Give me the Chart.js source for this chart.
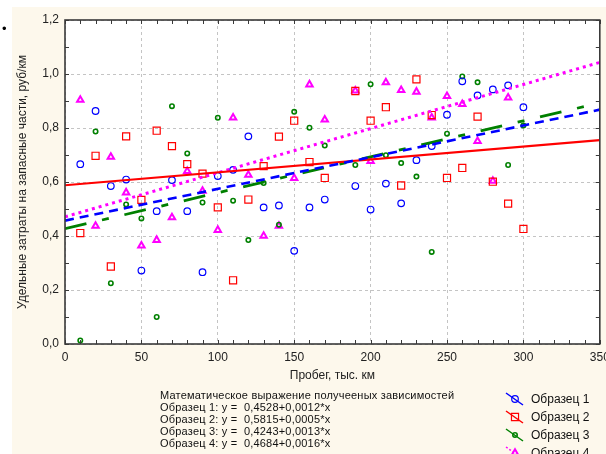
<!DOCTYPE html>
<html>
<head>
<meta charset="utf-8">
<script src="https://cdn.jsdelivr.net/npm/chart.js@4.4.1/dist/chart.umd.min.js"></script>
<style>
  body { margin: 0; width: 606px; height: 454px; overflow: hidden; position: relative; background: #fff; font-family: "Liberation Sans", Arial, sans-serif; }
  #paper { position: absolute; left: 12px; top: 7px; width: 594px; height: 447px; background: #fdf8ec; }
  #chart { position: absolute; left: 0; top: 0; }
  #bullet { position: absolute; left: 2px; top: 21px; font-size: 13px; color: #000; }
  #formulas { position: absolute; left: 160px; top: 389px; font-size: 11px; line-height: 12px; letter-spacing: 0.2px; color: #111; white-space: pre; }
  .leg { position: absolute; left: 531px; font-size: 12px; line-height: 14px; color: #111; white-space: nowrap; }
</style>
</head>
<body>
<div id="paper"></div>
<canvas id="chart" width="606" height="454"></canvas>
<div id="bullet">•</div>
<div id="formulas"></div>
<div id="legend"></div>
<script>
// mileage, thousand km
const mileage = [10,20,30,40,50,60,70,80,90,100,110,120,130,140,150,160,170,180,190,200,210,220,230,240,250,260,270,280,290,300];

// specific costs, rub/km (null = no mark)
const sample1 = [0.666,0.863,0.585,0.609,0.272,0.492,0.607,0.492,0.266,0.622,0.645,0.769,0.506,0.513,0.345,0.506,0.535,null,0.585,0.498,0.594,0.521,0.681,0.733,0.849,0.973,0.921,0.943,0.958,0.877];
const sample2 = [0.411,0.697,0.287,0.769,0.534,0.790,0.733,0.666,0.631,0.506,0.236,0.535,0.659,0.768,0.827,0.674,0.615,null,0.937,0.827,0.877,0.587,0.980,0.848,0.615,0.652,0.842,0.601,0.520,0.426];
const sample3 = [0.013,0.787,0.225,0.517,0.465,0.100,0.881,0.706,0.524,0.838,0.531,0.385,0.596,0.442,0.860,0.801,0.735,null,0.663,0.962,0.699,0.670,0.620,0.341,0.779,0.991,0.969,null,0.663,0.809];
const sample4 = [0.904,0.437,0.693,0.561,0.364,0.385,0.469,0.640,0.567,0.422,0.838,0.626,0.400,0.437,0.614,0.961,0.831,null,0.938,0.677,0.969,0.940,0.934,0.838,0.918,0.888,0.751,0.604,0.912,null];

// fitted lines, read at x = 0 and x = 350
const fitX = [0, 350];
const fitStart = [0.457, 0.588, 0.427, 0.471];
const fitEnd = [0.868, 0.755, 0.893, 1.043];

const seriesNames = ['Образец 1','Образец 2','Образец 3','Образец 4'];
const equations = ['0,4528+0,0012*x','0,5815+0,0005*x','0,4243+0,0013*x','0,4684+0,0016*x'];

const xTicks = [0,50,100,150,200,250,300,350];

const allSamples = [sample1, sample2, sample3, sample4];
const colors = ['#0000ff','#ff0000','#008000','#ff00ff'];
const markers = [
  {style:'circle', radius:3.3, width:1.2},
  {style:'rect', radius:5, width:1.2},
  {style:'circle', radius:2.2, width:1.6},
  {style:'triangle', radius:3.7, width:2}
];
const lineStyles = [
  {width:2.6, dash:[9,6]},
  {width:2.2, dash:[]},
  {width:2.8, dash:[22,16,7,16]},
  {width:3, dash:[3,4]}
];

const FONT = '"Liberation Sans", Arial, sans-serif';

const toPoints = ys => mileage.map((x,i) => ({x:x, y:ys[i]})).filter(p => p.y !== null);

const datasets = [];
allSamples.forEach((ys,i) => {
  datasets.push({
    type:'line', label: seriesNames[i] + ' fit',
    data: fitX.map((x,k) => ({x:x, y: k === 0 ? fitStart[i] : fitEnd[i]})),
    borderColor: colors[i], borderWidth: lineStyles[i].width, borderDash: lineStyles[i].dash,
    pointRadius: 0, fill: false, order: 1
  });
  datasets.push({
    type:'scatter', label: seriesNames[i],
    data: toPoints(ys),
    pointStyle: markers[i].style, pointRadius: markers[i].radius,
    borderColor: colors[i], backgroundColor: i === 3 ? '#ffffff' : 'rgba(0,0,0,0)',
    pointBorderWidth: markers[i].width, borderWidth: markers[i].width,
    showLine: false, order: 2
  });
});

function drawMarker(ctx, m, color, x, y) {
  ctx.save();
  ctx.strokeStyle = color;
  ctx.lineWidth = m.width;
  ctx.setLineDash([]);
  ctx.beginPath();
  if (m.style === 'circle') {
    ctx.arc(x, y, m.radius, 0, Math.PI*2);
  } else if (m.style === 'rect') {
    const s = Math.SQRT1_2 * m.radius;
    ctx.rect(x - s, y - s, 2*s, 2*s);
  } else {
    const r = m.radius;
    ctx.moveTo(x, y - r);
    ctx.lineTo(x + r*0.866, y + r*0.5);
    ctx.lineTo(x - r*0.866, y + r*0.5);
    ctx.closePath();
    ctx.fillStyle = '#fff';
    ctx.fill();
  }
  ctx.stroke();
  ctx.restore();
}

const frame = {
  id:'frame',
  beforeDraw(chart) {
    const {ctx, chartArea:a} = chart;
    ctx.save();
    ctx.fillStyle = '#ffffff';
    ctx.fillRect(a.left, a.top, a.right - a.left, a.bottom - a.top);
    ctx.restore();
  },
  afterDraw(chart) {
    const {ctx, chartArea:a, scales} = chart;
    const sx = scales.x, sy = scales.y;
    ctx.save();
    ctx.strokeStyle = '#3a3a3a';
    ctx.lineWidth = 1;
    ctx.beginPath();
    for (let v = 0; v <= 350; v += 10) {
      const px = Math.round(sx.getPixelForValue(v)) + 0.5;
      ctx.moveTo(px, a.top); ctx.lineTo(px, a.top + 4);
      ctx.moveTo(px, a.bottom); ctx.lineTo(px, a.bottom - 4);
    }
    for (let k = 0; k <= 12; k++) {
      const py = Math.round(sy.getPixelForValue(k / 10)) + 0.5;
      ctx.moveTo(a.left, py); ctx.lineTo(a.left + 4, py);
      ctx.moveTo(a.right, py); ctx.lineTo(a.right - 4, py);
    }
    ctx.stroke();
    ctx.lineWidth = 1.6;
    ctx.strokeRect(a.left, a.top, a.right - a.left, a.bottom - a.top);
    ctx.restore();

    // legend symbols
    for (let i = 0; i < 4; i++) {
      const yc = 399 + 18*i, xc = 515;
      ctx.save();
      ctx.strokeStyle = colors[i];
      ctx.lineWidth = Math.min(lineStyles[i].width, 1.5);
      ctx.setLineDash(i === 3 ? [2,2] : []);
      ctx.beginPath();
      ctx.moveTo(xc - 9, yc - 6); ctx.lineTo(xc + 8, yc + 6);
      ctx.stroke();
      ctx.restore();
      drawMarker(ctx, markers[i], colors[i], xc, yc);
    }
  }
};

new Chart(document.getElementById('chart'), {
  type:'scatter',
  data:{ datasets: datasets },
  options:{
    responsive:false, animation:false, events:[],
    layout:{ padding:{ top:20, right:6, left:0, bottom:0 } },
    plugins:{ legend:{display:false}, tooltip:{enabled:false} },
    scales:{
      x:{
        type:'linear', min:0, max:350,
        afterBuildTicks: s => { s.ticks = xTicks.map(v => ({value:v})); },
        ticks:{ padding:6, color:'#222', font:{family:FONT, size:12} },
        grid:{ color:'#c4c4c4', lineWidth:1, drawTicks:false, borderDash:[3,3] },
        border:{ display:false, dash:[3,3] },
        title:{ display:true, text:'Пробег, тыс. км', color:'#222', font:{family:FONT, size:12}, padding:{top:0, bottom:70.8} },
        afterFit: s => { s.height = 110; s.paddingLeft = 0; s.paddingRight = 0; }
      },
      y:{
        min:0, max:1.2,
        ticks:{ stepSize:0.2, padding:6, color:'#222', font:{family:FONT, size:12},
          callback: v => v.toFixed(1).replace('.', ',') },
        grid:{ color:'#c4c4c4', lineWidth:1, drawTicks:false, borderDash:[3,3] },
        border:{ display:false, dash:[3,3] },
        title:{ display:true, text:'Удельные затраты на запасные части, руб/км', color:'#222', font:{family:FONT, size:12}, padding:{top:15, bottom:0} },
        afterFit: s => { s.width = 65; s.paddingTop = 0; s.paddingBottom = 0; }
      }
    }
  },
  plugins:[frame]
});

// text block under the chart
const lines = ['Математическое выражение получееных зависимостей'];
equations.forEach((eq,i) => lines.push(seriesNames[i] + ': y =  ' + eq));
document.getElementById('formulas').textContent = lines.join('\n');

const legendBox = document.getElementById('legend');
seriesNames.forEach((name,i) => {
  const d = document.createElement('div');
  d.className = 'leg';
  d.style.top = (399 + 18*i - 7) + 'px';
  d.textContent = name;
  legendBox.appendChild(d);
});
</script>
</body>
</html>
